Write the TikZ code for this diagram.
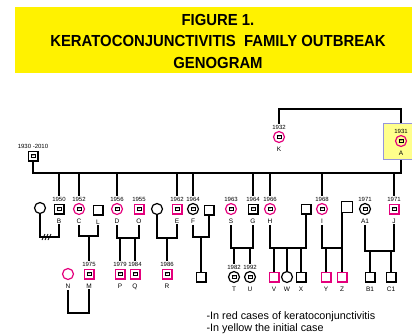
\documentclass[tikz,border=0pt]{standalone}
\usepackage{fontspec}
\setmainfont{Liberation Sans}
\newfontfamily\titlefont{Liberation Sans}[FakeStretch=0.93]
\definecolor{casered}{RGB}{228,0,124}
\definecolor{initfill}{RGB}{255,255,140}
\definecolor{initedge}{RGB}{150,150,220}
\newcommand{\agebox}[1]{{\fontsize{2.6}{2.6}\selectfont%
    \setlength{\fboxsep}{0.5pt}\setlength{\fboxrule}{0.35pt}\fbox{#1}}}
\newcommand{\indiv}[6][male]{%
    \node[#1, label={[yr, name=#2y]above:#5}, label={[lt, name=#2l]below:#6}]
        (#2) at (#3) {\agebox{#4}};
}

\begin{document}
\begin{tikzpicture}[x=1pt, y=-1pt, line width=1.2pt,
    male/.style={draw, rectangle, minimum size=9.8pt, inner sep=0pt, line width=1.2pt},
    female/.style={draw, circle, minimum size=11pt, inner sep=0pt, line width=1.2pt},
    case/.style={draw=casered},
    yr/.style={font=\fontsize{6}{6}\selectfont, inner sep=0.6pt, label distance=0.5pt},
    lt/.style={font=\fontsize{6.5}{6.5}\selectfont, inner sep=0.6pt, label distance=3pt},
    initbox/.style={draw=initedge, fill=initfill, line width=1pt, minimum width=31pt, minimum height=36pt}]
    \useasboundingbox (0,0) rectangle (412,335);
    \fill[yellow] (15,7) rectangle (412,73);
    \node[align=center, font=\titlefont\bfseries\fontsize{16}{21.5}\selectfont] (title) at (218,41)
        {FIGURE 1.\\KERATOCONJUNCTIVITIS\ \ FAMILY OUTBREAK\\GENOGRAM};
    % first generation
    \node[male, label={[yr, name=GFy]above:1930 -2010}] (GF) at (33,156) {\agebox{80}};
    \indiv[female,case]{K}{279,137}{85}{1932}{K}
    \node[initbox] (Abox) at (399,141) {};
    \indiv[female,case]{A}{401,141}{86}{1931}{A}
    % second generation
    \node[female] (Bw) at (40,208) {};
    \indiv{B}{59,209}{67}{1950}{B}
    \indiv[female,case]{C}{79,209}{65}{1952}{C}
    \node[male, label={[lt, name=Ll]below:L}] (L) at (98,210) {};
    \indiv[female,case]{D}{117,209}{61}{1956}{D}
    \indiv[male,case]{O}{139,209}{62}{1955}{O}
    \node[female] (Ew) at (157,209) {};
    \indiv[male,case]{E}{177,209}{55}{1962}{E}
    \indiv[female]{F}{193,209}{53}{1964}{F}
    \node[male] (Fh) at (209,210) {};
    \indiv[female,case]{S}{231,209}{54}{1963}{S}
    \indiv{G}{253,209}{53}{1964}{G}
    \indiv[female,case]{H}{270,209}{51}{1966}{H}
    \node[male] (Hh) at (306,209) {};
    \indiv[female,case]{I}{322,209}{49}{1968}{I}
    \node[male, minimum size=10.5pt] (Ih) at (347,207) {};
    \indiv[female]{A1}{365,209}{46}{1971}{A1}
    \indiv[male,case]{J}{394,209}{46}{1971}{J}
    % third generation
    \node[female, case, label={[lt, name=Nl]below:N}] (N) at (68,274) {};
    \indiv[male,case]{M}{89,274}{42}{1975}{M}
    \indiv[male,case]{P}{120,274}{38}{1979}{P}
    \indiv[male,case]{Q}{135,274}{33}{1984}{Q}
    \indiv[male,case]{R}{167,274}{31}{1986}{R}
    \node[male] (Fc) at (201,277) {};
    \indiv[female]{T}{234,277}{35}{1982}{T}
    \indiv[female]{U}{250,277}{25}{1992}{U}
    \node[male, case, label={[lt, name=Vl]below:V}] (V) at (274,277) {};
    \node[female, label={[lt, name=Wl]below:W}] (W) at (287,277) {};
    \node[male, label={[lt, name=Xl]below:X}] (X) at (301,277) {};
    \node[male, case, label={[lt, name=Yl]below:Y}] (Y) at (326,277) {};
    \node[male, case, label={[lt, name=Zl]below:Z}] (Z) at (342,277) {};
    \node[male, label={[lt, name=B1l]below:B1}] (B1) at (370,277) {};
    \node[male, label={[lt, name=C1l]below:C1}] (C1) at (391,277) {};

    % lines of descent
    \coordinate (sib) at (0,173);
    \coordinate (top) at (0,109);
    \draw (GF) -- (GF |- sib) -- (A |- sib) -- (Abox.south -| A);
    \draw (Abox.north -| A) -- (A |- top) -- (K |- top) -- (Ky);
    \foreach \who in {B,C,D,E,F,G,H,I,J}
        \draw (\who y |- sib) -- (\who y);
    \coordinate (bb) at (0,237);
    \draw (Bw) -- (Bw |- bb) -- (Bl |- bb) -- (Bl);
    \draw[line width=0.7pt] (42,240) -- (45,234) (45,240) -- (48,234) (48,240) -- (51,234);
    \coordinate (cl) at (0,236);
    \draw (Cl) -- (Cl |- cl) -- (Ll |- cl) -- (Ll);
    \draw (My |- cl) -- (My);
    \coordinate (do) at (0,238);
    \draw (Dl) -- (Dl |- do) -- (Ol |- do) -- (Ol);
    \draw (Py |- do) -- (Py);
    \draw (Qy |- do) -- (Qy);
    \coordinate (ee) at (0,238);
    \draw (Ew) -- (Ew |- ee) -- (El |- ee) -- (El);
    \draw (Ry |- ee) -- (Ry);
    \coordinate (ff) at (0,237);
    \draw (Fl) -- (Fl |- ff) -- (Fh |- ff) -- (Fh);
    \draw (Fc |- ff) -- (Fc);
    \coordinate (sg) at (0,248);
    \draw (Sl) -- (Sl |- sg) -- (Gl |- sg) -- (Gl);
    \draw (Ty |- sg) -- (Ty);
    \draw (Uy |- sg) -- (Uy);
    \coordinate (hh) at (0,248);
    \draw (Hl) -- (Hl |- hh) -- (Hh.south |- hh) -- (Hh.south);
    \foreach \who in {V,W,X}
        \draw (\who |- hh) -- (\who);
    \coordinate (ii) at (0,248);
    \draw (Il) -- (Il |- ii) -- (Z |- ii) -- (Ih.south -| Z);
    \draw (Y |- ii) -- (Y);
    \draw (Z |- ii) -- (Z);
    \coordinate (aj) at (0,251);
    \draw (A1l) -- (A1l |- aj) -- (Jl |- aj) -- (Jl);
    \draw (B1 |- aj) -- (B1);
    \draw (C1 |- aj) -- (C1);
    \coordinate (nm) at (0,313);
    \draw (Nl) -- (Nl |- nm) -- (Ml |- nm) -- (Ml);

    \node[align=left, anchor=north west, inner sep=0pt, font=\fontsize{10.8}{12.4}\selectfont] (key) at (206,311)
        {-In red cases of keratoconjunctivitis\\-In yellow the initial case};
\end{tikzpicture}
\end{document}
